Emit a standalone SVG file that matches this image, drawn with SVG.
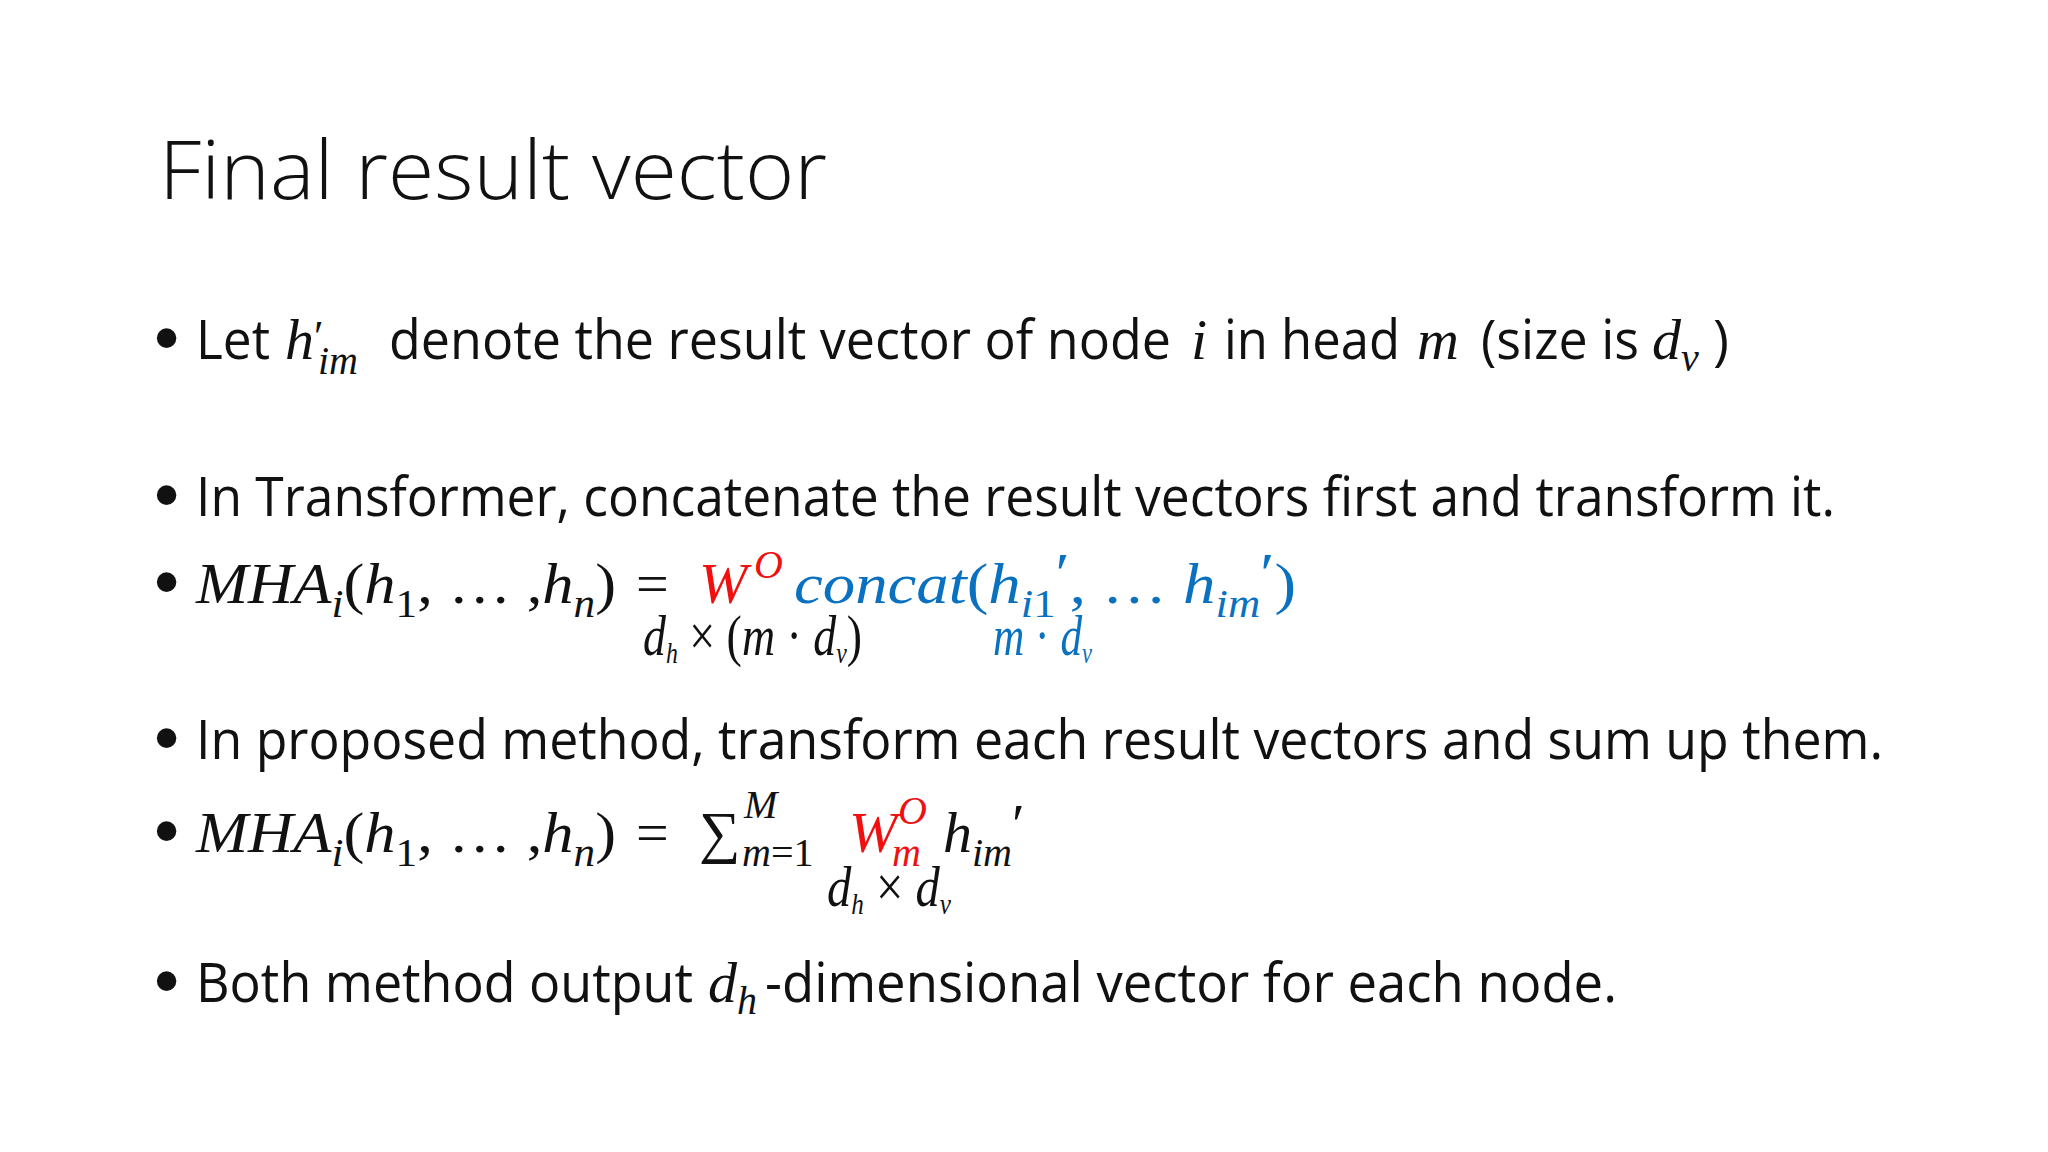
<svg xmlns="http://www.w3.org/2000/svg" width="2048" height="1152" viewBox="0 0 2048 1152">
<style>
.t{font-family:"Open Sans","Liberation Sans",sans-serif;fill:#111;font-size:54px}
.bl{font-family:"Liberation Sans",sans-serif;fill:#111;font-size:72px}
.m{font-family:"Liberation Serif","DejaVu Serif",serif;font-style:italic;fill:#111;font-size:58px}
.s{font-size:40px}
.r{fill:#f01010}
.b{fill:#0a70c0}
.n{font-style:normal}
</style>
<rect width="2048" height="1152" fill="#fff"/>
<g id="title"><text class="t" x="159" y="199" style="font-size:82px;font-weight:300" textLength="668" lengthAdjust="spacingAndGlyphs">Final result vector</text></g>
<g id="bullet1">
<text class="bl" x="154" y="362">•</text>
<text class="t" x="196" y="359" textLength="74" lengthAdjust="spacingAndGlyphs">Let</text>
<text class="m" x="285" y="359">h<tspan class="n" dy="-8" font-size="44">′</tspan></text>
<text class="m s" x="318" y="374">im</text>
<text class="t" x="389" y="359" textLength="782" lengthAdjust="spacingAndGlyphs">denote the result vector of node</text>
<text class="m" x="1191" y="359">i</text>
<text class="t" x="1224" y="359" textLength="176" lengthAdjust="spacingAndGlyphs">in head</text>
<text class="m" x="1417" y="359">m</text>
<text class="t" x="1481" y="359" textLength="158" lengthAdjust="spacingAndGlyphs">(size is</text>
<text class="m" x="1652" y="359">d<tspan class="s" dy="12">v</tspan></text>
<text class="t" x="1713" y="359">)</text>
</g>
<g id="bullet2">
<text class="bl" x="154" y="519">•</text>
<text class="t" x="196" y="516" textLength="1639" lengthAdjust="spacingAndGlyphs">In Transformer, concatenate the result vectors first and transform it.</text>
</g>
<g id="bullet3">
<text class="bl" x="154" y="606">•</text>
<text class="m" x="196" y="603" textLength="420" lengthAdjust="spacingAndGlyphs">MHA<tspan class="s" dy="14">i</tspan><tspan dy="-14" class="n">(</tspan>h<tspan class="s n" dy="14">1</tspan><tspan class="n" dy="-14">, … ,</tspan>h<tspan class="s" dy="14">n</tspan><tspan class="n" dy="-14">)</tspan></text>
<text class="m n" x="636" y="603">=</text>
<text class="m r" x="699" y="603">W</text>
<text class="m r s" x="754" y="578">O</text>
<text class="m b" x="794" y="603" textLength="502" lengthAdjust="spacingAndGlyphs">concat<tspan class="n">(</tspan>h<tspan class="s" dy="14">i<tspan class="n">1</tspan></tspan><tspan class="n" dy="-24">′</tspan><tspan class="n" dy="10">, … </tspan>h<tspan class="s" dy="14">im</tspan><tspan class="n" dy="-24">′</tspan><tspan class="n" dy="10">)</tspan></text>
<text class="m" x="643" y="655" font-size="36" textLength="219" lengthAdjust="spacingAndGlyphs">d<tspan dy="8" font-size="30">h</tspan><tspan class="n" dy="-8"> × (</tspan>m<tspan class="n"> · </tspan>d<tspan dy="8" font-size="30">v</tspan><tspan class="n" dy="-8">)</tspan></text>
<text class="m b" x="993" y="655" font-size="36" textLength="99" lengthAdjust="spacingAndGlyphs">m<tspan class="n"> · </tspan>d<tspan dy="8" font-size="30">v</tspan></text>
</g>
<g id="bullet4">
<text class="bl" x="154" y="762">•</text>
<text class="t" x="196" y="759" textLength="1687" lengthAdjust="spacingAndGlyphs">In proposed method, transform each result vectors and sum up them.</text>
</g>
<g id="bullet5">
<text class="bl" x="154" y="855">•</text>
<text class="m" x="196" y="852" textLength="420" lengthAdjust="spacingAndGlyphs">MHA<tspan class="s" dy="14">i</tspan><tspan dy="-14" class="n">(</tspan>h<tspan class="s n" dy="14">1</tspan><tspan class="n" dy="-14">, … ,</tspan>h<tspan class="s" dy="14">n</tspan><tspan class="n" dy="-14">)</tspan></text>
<text class="m n" x="636" y="852">=</text>
<text class="m n" x="699" y="852">∑</text>
<text class="m s" x="744" y="818">M</text>
<text class="m s" x="742" y="866">m<tspan class="n">=1</tspan></text>
<text class="m r" x="849" y="852">W</text>
<text class="m r s" x="898" y="824">O</text>
<text class="m r s" x="892" y="866">m</text>
<text class="m" x="943" y="852">h<tspan class="s" dy="14">im</tspan><tspan class="n" dy="-22">′</tspan></text>
<text class="m" x="827" y="906" font-size="36" textLength="124" lengthAdjust="spacingAndGlyphs">d<tspan dy="8" font-size="30">h</tspan><tspan class="n" dy="-8"> × </tspan>d<tspan dy="8" font-size="30">v</tspan></text>
</g>
<g id="bullet6">
<text class="bl" x="154" y="1005">•</text>
<text class="t" x="196" y="1002" textLength="497" lengthAdjust="spacingAndGlyphs">Both method output</text>
<text class="m" x="708" y="1002">d<tspan class="s" dy="12">h</tspan></text>
<text class="t" x="765" y="1002" textLength="852" lengthAdjust="spacingAndGlyphs">-dimensional vector for each node.</text>
</g>
</svg>
